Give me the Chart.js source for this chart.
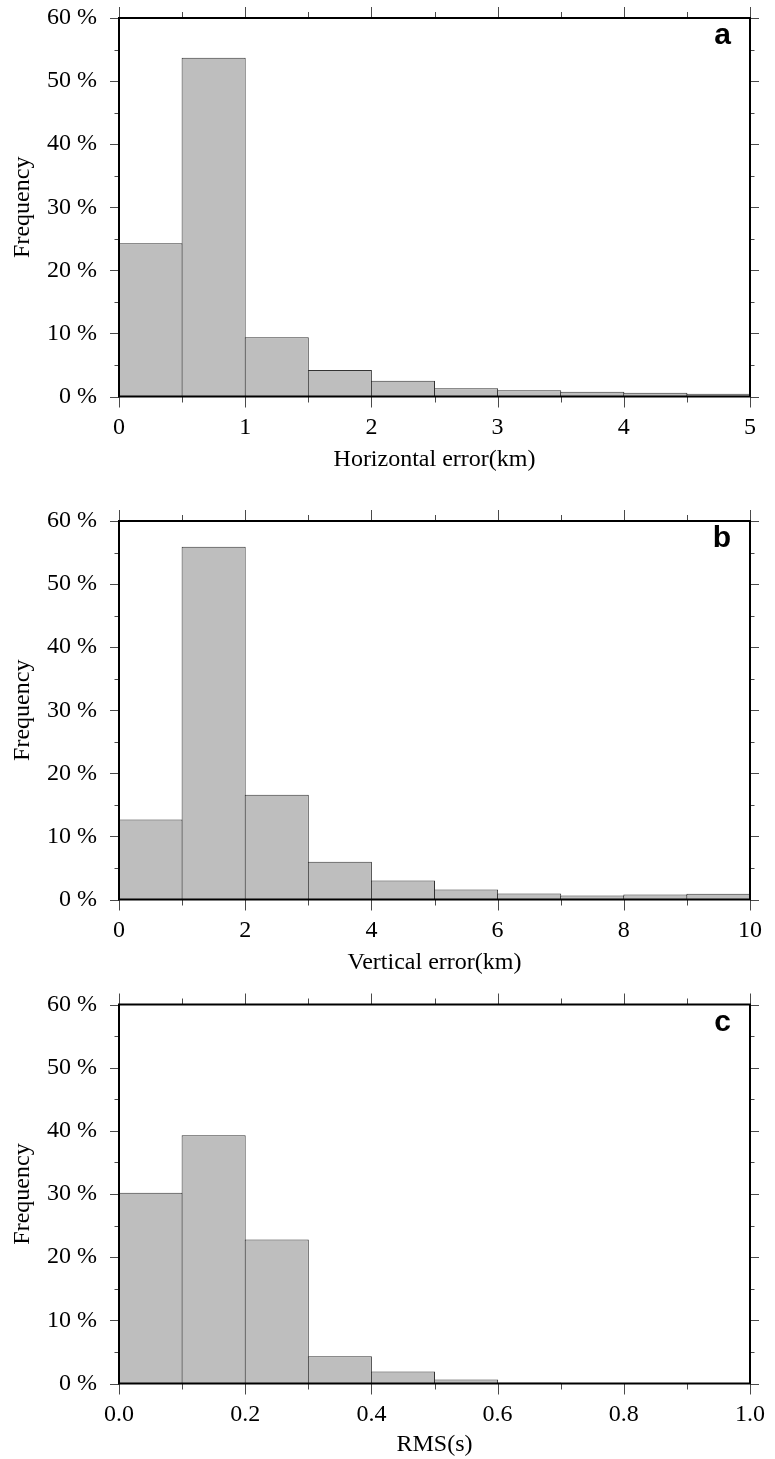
<!DOCTYPE html>
<html><head><meta charset="utf-8">
<script src="https://cdn.jsdelivr.net/npm/chart.js@4.4.1/dist/chart.umd.min.js"></script>
<style>
html,body{margin:0;padding:0;background:#fff;}
body{width:775px;height:1459px;position:relative;overflow:hidden;}
canvas{position:absolute;left:0;}
</style></head><body>
<canvas id="ca" width="775" height="480" style="top:0px"></canvas>
<canvas id="cb" width="775" height="480" style="top:503px"></canvas>
<canvas id="cc" width="775" height="472" style="top:987px"></canvas>
<script>
// ---- data ----
const horizBinStarts = [0, 0.5, 1, 1.5, 2, 2.5, 3, 3.5, 4, 4.5];
const horizBinWidth = 0.5;
const horizFreq = [24.3, 53.7, 9.4, 4.2, 2.5, 1.3, 1.0, 0.75, 0.6, 0.45];
const horizTicks = ['0', '1', '2', '3', '4', '5'];

const vertBinStarts = [0, 1, 2, 3, 4, 5, 6, 7, 8, 9];
const vertBinWidth = 1;
const vertFreq = [12.7, 55.9, 16.6, 6.0, 3.0, 1.6, 0.95, 0.65, 0.8, 0.9];
const vertTicks = ['0', '2', '4', '6', '8', '10'];

const rmsBinStarts = [0, 0.1, 0.2, 0.3, 0.4, 0.5, 0.6, 0.7, 0.8, 0.9];
const rmsBinWidth = 0.1;
const rmsFreq = [30.2, 39.3, 22.8, 4.3, 1.9, 0.63, 0.15, 0, 0, 0];
const rmsTicks = ['0.0', '0.2', '0.4', '0.6', '0.8', '1.0'];

const freqTicks = ['0 %', '10 %', '20 %', '30 %', '40 %', '50 %', '60 %'];
const xTitles = ['Horizontal error(km)', 'Vertical error(km)', 'RMS(s)'];
const yTitle = 'Frequency';
const panelLetters = ['a', 'b', 'c'];

// ---- drawing ----
const SERIF = '"Liberation Serif", "Times New Roman", Times, serif';

const framePlugin = {
  id: 'frame',
  afterDatasetsDraw(chart, args, opts) {
    const {ctx, chartArea: a, scales: {x, y}} = chart;
    ctx.save();
    ctx.strokeStyle = '#4a4a4a';
    ctx.lineWidth = 1;
    ctx.beginPath();
    const nx = Math.round((x.max - x.min) / opts.xMinor);
    for (let i = 0; i <= nx; i++) {
      const px = Math.round(x.getPixelForValue(x.min + i * opts.xMinor)) + 0.5;
      const L = i % 2 === 0 ? 11 : 6;
      ctx.moveTo(px, a.bottom); ctx.lineTo(px, a.bottom + L);
      ctx.moveTo(px, a.top); ctx.lineTo(px, a.top - L);
    }
    const ny = Math.round((y.max - y.min) / opts.yMinor);
    for (let i = 0; i <= ny; i++) {
      const py = Math.round(y.getPixelForValue(y.min + i * opts.yMinor)) + 0.5;
      const L = i % 2 === 0 ? 9 : 4.5;
      ctx.moveTo(a.left, py); ctx.lineTo(a.left - L, py);
      ctx.moveTo(a.right, py); ctx.lineTo(a.right + L, py);
    }
    ctx.stroke();
    ctx.strokeStyle = '#000';
    ctx.lineWidth = 2;
    ctx.strokeRect(a.left, a.top, a.width, a.height);
    ctx.font = 'bold 30px "Liberation Sans", Arial, sans-serif';
    ctx.fillStyle = '#000';
    ctx.textAlign = 'right';
    ctx.textBaseline = 'alphabetic';
    ctx.fillText(opts.letter, a.right - 19, a.top + 26);
    ctx.restore();
  }
};

function makePanel(id, starts, binW, freq, xLabels, title, letter, canvasH, topPad) {
  const xMax = starts[starts.length - 1] + binW;
  const xMajor = xMax / (xLabels.length - 1);
  const plotW = 775 - 119 - 25;
  const binPx = plotW * binW / xMax;
  new Chart(document.getElementById(id), {
    type: 'bar',
    data: {
      datasets: [{
        data: starts.map((s, i) => ({x: s + binW / 2, y: freq[i]})),
        backgroundColor: '#bebebe',
        borderColor: '#333333',
        borderWidth: 1,
        borderSkipped: 'start',
        barPercentage: 1 + 1 / binPx,
        categoryPercentage: 1
      }]
    },
    options: {
      responsive: false,
      animation: false,
      layout: {padding: {top: topPad, right: 25, left: 0, bottom: 0}},
      plugins: {
        legend: {display: false},
        tooltip: {enabled: false},
        frame: {letter: letter, xMinor: xMajor / 2, yMinor: 5}
      },
      scales: {
        x: {
          type: 'linear', min: 0, max: xMax, offset: false,
          grid: {display: true, offset: false, drawOnChartArea: false, drawTicks: true, tickLength: 12, tickColor: 'rgba(0,0,0,0)'},
          border: {display: false},
          ticks: {
            stepSize: xMajor, autoSkip: false, maxRotation: 0, padding: 5, color: '#000',
            font: {family: SERIF, size: 24},
            callback: (v) => xLabels[Math.round(v / xMajor)]
          },
          title: {display: true, text: title, color: '#000', font: {family: SERIF, size: 24}, padding: {top: 0, bottom: canvasH === 480 ? 6 : 0}},
          afterFit: (s) => { s.height = canvasH - 396.5; s.paddingLeft = 0; s.paddingRight = 0; }
        },
        y: {
          min: 0, max: 60,
          grid: {display: true, drawOnChartArea: false, drawTicks: true, tickLength: 12, tickColor: 'rgba(0,0,0,0)'},
          border: {display: false},
          ticks: {
            stepSize: 10, padding: 10, color: '#000',
            font: {family: SERIF, size: 24},
            callback: (v) => freqTicks[Math.round(v / 10)]
          },
          title: {display: true, text: yTitle, color: '#000', font: {family: SERIF, size: 24}, padding: {top: 8, bottom: 0}},
          afterFit: (s) => { s.width = 119; s.paddingTop = 0; s.paddingBottom = 0; }
        }
      }
    },
    plugins: [framePlugin]
  });
}

makePanel('ca', horizBinStarts, horizBinWidth, horizFreq, horizTicks, xTitles[0], panelLetters[0], 480, 18);
makePanel('cb', vertBinStarts, vertBinWidth, vertFreq, vertTicks, xTitles[1], panelLetters[1], 480, 18);
makePanel('cc', rmsBinStarts, rmsBinWidth, rmsFreq, rmsTicks, xTitles[2], panelLetters[2], 472, 17.5);
</script>
</body></html>
